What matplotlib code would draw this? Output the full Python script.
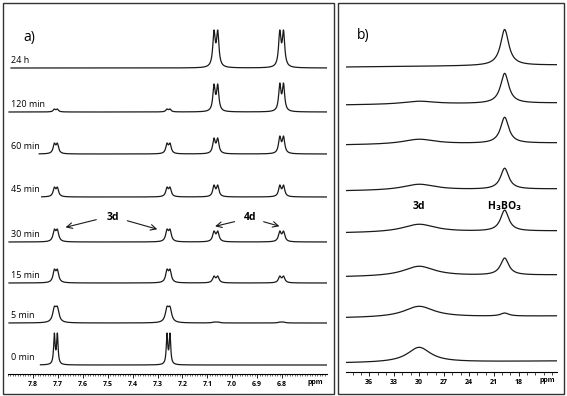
import numpy as np
import matplotlib
matplotlib.use("Agg")
import matplotlib.pyplot as plt
from matplotlib.patches import Rectangle

plt.rcParams['font.family'] = ['Open Sans', 'DejaVu Sans']

# spectra, from 0 min (bottom) to 24 h (top)
times = ['0 min', '5 min', '15 min', '30 min', '45 min', '60 min', '120 min', '24 h']

# panel a: 1H NMR, peak heights (px)
pos_3d = [7.708, 7.256]
pos_4d = [7.066, 6.802]
h_3d = [32, 17, 14, 13, 10, 11, 3, 0]
h_4d_left = [0, 1, 7, 11, 12, 16, 28, 38]
h_4d_right = [0, 1, 7, 11, 12, 18, 29, 38]
w_a = [0.0035, 0.008, 0.0065, 0.0065, 0.006, 0.006, 0.0055, 0.0058]
j_3d = 0.012
j_4d = 0.015

# panel b: 11B NMR
pos_b3d = 30.0
pos_boric = 19.7
h_b3d = [15, 11, 10, 8, 6, 5, 3, 0]
h_boric = [0, 3, 17, 21, 21, 26, 30, 36]
w_b3d = [1.7, 2.2, 2.3, 2.4, 2.4, 2.4, 2.4, 2.4]
w_boric = 0.6

W, H = 567, 396
fig = plt.figure(figsize=(W / 100, H / 100), dpi=100)


def px_axes(l, t, r, b):
    return fig.add_axes([l / W, 1 - b / H, (r - l) / W, (b - t) / H])


def lor(x, x0, w):
    return w ** 2 / ((x - x0) ** 2 + w ** 2)


def dbl(x, c, j, w):
    # doublet scaled so its tallest point is 1
    xx = np.linspace(c - j, c + j, 401)
    top = np.max(lor(xx, c + j / 2, w) + lor(xx, c - j / 2, w))
    return (lor(x, c + j / 2, w) + lor(x, c - j / 2, w)) / top


lc = '#1a1a1a'

# ---------- panel a ----------
axa = px_axes(8, 10, 327, 374)
axa.set_xlim(7.896, 6.62)
axa.set_ylim(0, 364)
for s in ['top', 'left', 'right']:
    axa.spines[s].set_visible(False)
axa.spines['bottom'].set_linewidth(0.8)
axa.set_yticks([])
ticks_a = np.round(np.arange(6.8, 7.81, 0.1), 1)
axa.set_xticks(ticks_a)
axa.set_xticklabels([f'{v:.1f}' for v in ticks_a])
axa.set_xticks(np.arange(6.63, 7.9, 0.01), minor=True)
axa.tick_params(axis='x', which='major', length=3, width=0.6, labelsize=5, pad=2)
axa.tick_params(axis='x', which='minor', length=1.3, width=0.4)
for t in axa.get_xticklabels():
    t.set_fontweight('bold')
axa.text(6.665, -9, 'ppm', fontsize=5, fontweight='bold', ha='center', va='center')

base_a = [9, 51, 91, 132, 177, 220, 262, 306]
start_a = [7.77, 7.896, 7.896, 7.896, 7.765, 7.775, 7.896, 7.888]
x = np.linspace(7.896, 6.62, 5000)
for i, t in enumerate(times):
    y = (h_3d[i] * (dbl(x, pos_3d[0], j_3d, w_a[i]) + dbl(x, pos_3d[1], j_3d, w_a[i]))
         + h_4d_left[i] * dbl(x, pos_4d[0], j_4d, w_a[i])
         + h_4d_right[i] * dbl(x, pos_4d[1], j_4d, w_a[i]))
    m = x <= start_a[i]
    axa.plot(x[m], base_a[i] + y[m], color=lc, lw=0.9)
    axa.text(7.888, base_a[i] + 3, t, fontsize=6.5, ha='left', va='bottom')

axa.text(7.84, 336, 'a)', fontsize=10, ha='left', va='center')
axa.text(7.48, 157, '3d', fontsize=7.5, fontweight='bold', ha='center', va='center')
axa.text(6.93, 157, '4d', fontsize=7.5, fontweight='bold', ha='center', va='center')
ap = dict(arrowstyle='->', color=lc, lw=0.8)
axa.annotate('', xy=(7.68, 146), xytext=(7.535, 155), arrowprops=ap)
axa.annotate('', xy=(7.29, 144), xytext=(7.432, 154), arrowprops=ap)
axa.annotate('', xy=(7.08, 147), xytext=(6.98, 153), arrowprops=ap)
axa.annotate('', xy=(6.80, 147), xytext=(6.885, 153), arrowprops=ap)

# ---------- panel b ----------
axb = px_axes(346, 10, 557, 372)
axb.set_xlim(38.8, 13.4)
axb.set_ylim(0, 362)
for s in ['top', 'left', 'right']:
    axb.spines[s].set_visible(False)
axb.spines['bottom'].set_linewidth(0.8)
axb.set_yticks([])
axb.set_xticks(np.arange(18, 37, 3))
axb.set_xticks(np.arange(14, 39, 1), minor=True)
axb.tick_params(axis='x', which='major', length=3.2, width=0.6, labelsize=5, pad=2)
axb.tick_params(axis='x', which='minor', length=2.5, width=0.5)
for t in axb.get_xticklabels():
    t.set_fontweight('bold')
axb.text(14.6, -9, 'ppm', fontsize=5, fontweight='bold', ha='center', va='center')

base_b = [9, 54, 95, 139, 181, 227, 267, 305]
xb = np.linspace(38.8, 13.4, 3000)
tilt = 2.0 * (38.8 - xb) / (38.8 - 13.4)
for i, t in enumerate(times):
    y = h_b3d[i] * lor(xb, pos_b3d, w_b3d[i]) + h_boric[i] * lor(xb, pos_boric, w_boric)
    axb.plot(xb, base_b[i] + tilt + y, color=lc, lw=0.9)

axb.text(37.5, 336, 'b)', fontsize=10, ha='left', va='center')
axb.text(pos_b3d, 166, '3d', fontsize=7.5, fontweight='bold', ha='center', va='center')
axb.text(pos_boric, 166, r'H$_\mathbf{3}$BO$_\mathbf{3}$', fontsize=7.5, fontweight='bold',
         ha='center', va='center')

# panel frames
for l, r in [(2.5, 334), (338, 563.5)]:
    fig.patches.append(Rectangle((l / W, 1 - 393.5 / H), (r - l) / W, 391 / H,
                                 transform=fig.transFigure, fill=False,
                                 edgecolor='#333333', lw=1.0))

fig.savefig('out.png', dpi=100)
